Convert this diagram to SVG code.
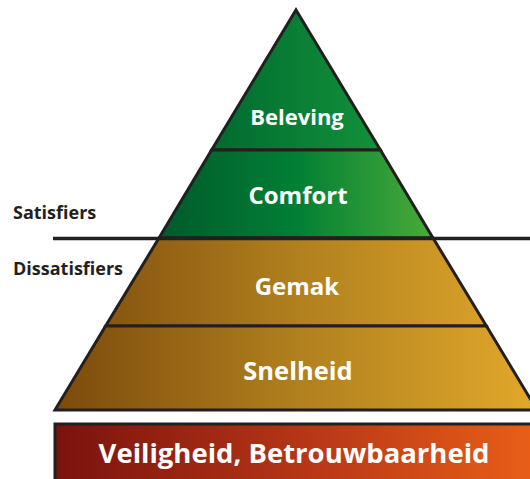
<svg xmlns="http://www.w3.org/2000/svg" width="530" height="479" viewBox="0 0 530 479">
<defs>
<linearGradient id="gTop" gradientUnits="userSpaceOnUse" x1="212" y1="0" x2="380" y2="0"><stop offset="0" stop-color="#006b30"/><stop offset="1" stop-color="#13913a"/></linearGradient>
<linearGradient id="gGreen" gradientUnits="userSpaceOnUse" x1="159" y1="0" x2="433" y2="0"><stop offset="0" stop-color="#005a2a"/><stop offset="0.5" stop-color="#017f35"/><stop offset="1" stop-color="#4aab38"/></linearGradient>
<linearGradient id="gGold" gradientUnits="userSpaceOnUse" x1="55" y1="0" x2="537" y2="0"><stop offset="0" stop-color="#7b4a0c"/><stop offset="0.5" stop-color="#b0801e"/><stop offset="1" stop-color="#e2a82a"/></linearGradient>
<linearGradient id="gRed" gradientUnits="userSpaceOnUse" x1="54" y1="0" x2="530" y2="0"><stop offset="0" stop-color="#7a120d"/><stop offset="0.5" stop-color="#b33416"/><stop offset="1" stop-color="#e85e18"/></linearGradient>
</defs>
<style>
.lvl{stroke:#231f20;stroke-width:3;stroke-linejoin:miter}
.t{font-family:"Open Sans","DejaVu Sans",sans-serif;font-weight:bold;fill:#ffffff;text-anchor:middle}
.side{font-family:"Open Sans","DejaVu Sans",sans-serif;font-weight:bold;fill:#231f20;font-size:18px}
</style>
<g id="beleving"><polygon class="lvl" fill="url(#gTop)" points="296,10 380.4,150 211.6,150"/><text class="t" x="297" y="125" font-size="22">Beleving</text></g>
<g id="comfort"><polygon class="lvl" fill="url(#gGreen)" points="211.6,150 380.4,150 433,238 159,238"/><text class="t" x="298" y="204" font-size="24">Comfort</text></g>
<g id="gemak"><polygon class="lvl" fill="url(#gGold)" points="159,238 433,238 486.4,326 105.6,326"/><text class="t" x="297" y="295" font-size="24">Gemak</text></g>
<g id="snelheid"><polygon class="lvl" fill="url(#gGold)" points="105.6,326 486.4,326 537,410 55,410"/><text class="t" x="298" y="380" font-size="25.5">Snelheid</text></g>
<g id="veiligheid"><rect x="55" y="424" width="480" height="60" fill="url(#gRed)" stroke="#231f20" stroke-width="3"/><text class="t" x="294" y="463" font-size="27.5">Veiligheid, Betrouwbaarheid</text></g>
<g id="connectors"><line x1="53" y1="238.5" x2="530" y2="238.5" stroke="#231f20" stroke-width="3.5"/></g>
<g id="labels"><text class="side" x="13" y="219">Satisfiers</text><text class="side" x="13" y="275">Dissatisfiers</text></g>
</svg>
